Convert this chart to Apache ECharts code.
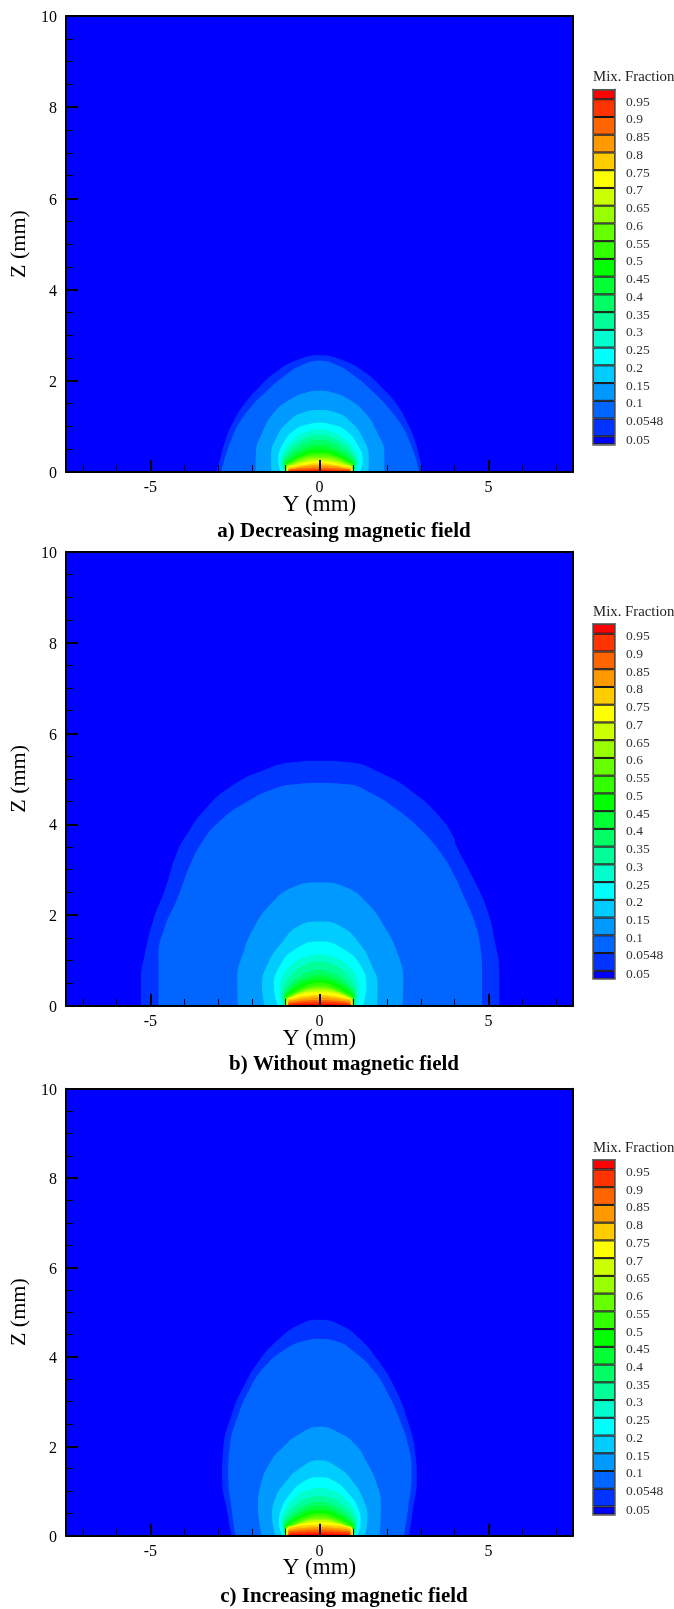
<!DOCTYPE html>
<html><head><meta charset="utf-8">
<style>html,body{margin:0;padding:0;background:#fff}#c{width:674px;height:1609px}</style>
<script src="https://cdn.jsdelivr.net/npm/echarts@6/dist/echarts.min.js"></script>
</head><body><div id="c"></div>
<script>
// ---- data ----
const levelNames = ['0.05','0.0548','0.1','0.15','0.2','0.25','0.3','0.35','0.4','0.45','0.5','0.55','0.6','0.65','0.7','0.75','0.8','0.85','0.9','0.95'];
const levelColors = ['#0033ff','#0066ff','#0099ff','#00ccff','#00ffff','#00ffcc','#00ff99','#00ff66','#00ff33','#00ff00','#33ff00','#66ff00','#99ff00','#ccff00','#ffff00','#ffcc00','#ff9900','#ff6600','#ff3300','#ff0000'];
const baseColor = '#0000ff';
const yMajor = [-5,0,5];
const yMinor = [-7,-6,-4,-3,-2,-1,1,2,3,4,6,7];
const zMajor = [0,2,4,6,8,10];
const zMinor = [0.5,1,1.5,2.5,3,3.5,4.5,5,5.5,6.5,7,7.5,8.5,9,9.5];
const captions = ['a) Decreasing magnetic field','b) Without magnetic field','c) Increasing magnetic field'];
const legendThickness = [0.45,1,1,1,1,1,1,1,1,1,1,1,1,1,1,1,1,1,1,1,0.56];
const legendLabels = ['0.05','0.0548','0.1','0.15','0.2','0.25','0.3','0.35','0.4','0.45','0.5','0.55','0.6','0.65','0.7','0.75','0.8','0.85','0.9','0.95',''];

// Boundary of each level as [Y, Z]; lists ending on Y = 0 are the left half of a symmetric contour.
const contoursDecreasing = [
 [[-3.05,0],[-2.95,.25],[-2.78,.7],[-2.55,1.1],[-2.21,1.5],[-1.8,1.85],[-1.28,2.2],[-.64,2.46],[0,2.56],[.65,2.46],[1.32,2.2],[1.85,1.85],[2.3,1.47],[2.6,1.08],[2.82,.7],[2.98,.25],[3.07,0]],
 [[-2.9,0],[-2.8,.3],[-2.6,.72],[-2.35,1.1],[-2,1.45],[-1.6,1.75],[-1.05,2.1],[-.5,2.35],[0,2.44],[.5,2.35],[1.05,2.1],[1.6,1.75],[2.05,1.4],[2.42,1.04],[2.65,.7],[2.85,.3],[2.95,0]],
 [[-1.89,0],[-1.88,.4],[-1.7,.85],[-1.35,1.3],[-.85,1.6],[-.4,1.74],[0,1.78],[.4,1.74],[.85,1.6],[1.35,1.3],[1.72,.85],[1.92,.4],[1.92,0]],
 [[-1.42,0],[-1.43,.3],[-1.28,.75],[-.9,1.12],[-.5,1.3],[0,1.36],[.5,1.3],[.9,1.12],[1.28,.75],[1.46,.3],[1.45,0]],
 [[-1.15,0],[-1.22,.25],[-1.08,.62],[-.72,.93],[-.35,1.04],[0,1.08],[.35,1.04],[.74,.93],[1.11,.62],[1.28,.25],[1.2,0]],
 [[-1.03,0],[-1.15,.22],[-1.03,.48],[-.7,.75],[-.35,.89],[0,.93]],
 [[-1.02,0],[-1.1,.2],[-.97,.42],[-.65,.65],[-.3,.78],[0,.81]],
 [[-1.01,0],[-1.06,.18],[-.93,.37],[-.6,.56],[-.3,.67],[0,.7]],
 [[-1,0],[-1.03,.16],[-.88,.32],[-.55,.47],[-.27,.56],[0,.59]],
 [[-1,0],[-1.01,.14],[-.85,.27],[-.5,.41],[-.25,.48],[0,.5]],
 [[-.99,0],[-1,.13],[-.82,.24],[-.5,.35],[-.25,.41],[0,.42]],
 [[-.98,0],[-.98,.12],[-.8,.21],[-.5,.31],[-.25,.36],[0,.37]],
 [[-.98,0],[-.97,.11],[-.8,.18],[-.5,.27],[-.25,.31],[0,.32]],
 [[-.97,0],[-.96,.1],[-.8,.16],[-.5,.23],[-.25,.27],[0,.28]],
 [[-.96,0],[-.95,.09],[-.75,.14],[-.4,.21],[-.2,.23],[0,.24]],
 [[-.95,0],[-.94,.08],[-.75,.12],[-.4,.16],[-.2,.185],[0,.19]],
 [[-.93,0],[-.92,.06],[-.7,.09],[-.4,.13],[0,.15]],
 [[-.92,0],[-.91,.05],[-.7,.07],[-.4,.085],[0,.1]],
 [[-.91,0],[-.9,.03],[-.7,.04],[-.4,.05],[0,.06]],
 [[-.89,0],[-.88,.015],[-.7,.02],[0,.03]]
];
const contoursWithout = [
 [[-5.28,0],[-5.28,.57],[-5.16,1.16],[-4.91,1.9],[-4.57,2.56],[-4.22,3.37],[-3.93,3.77],[-3.39,4.32],[-2.6,4.84],[-1.62,5.2],[-.74,5.37],[0,5.4],[.83,5.37],[1.82,5.13],[2.8,4.69],[3.59,4.14],[3.98,3.7],[4.03,3.55],[4.57,2.78],[4.96,2.12],[5.2,1.38],[5.32,.72],[5.32,0]],
 [[-4.76,0],[-4.76,1.09],[-4.57,1.75],[-4.22,2.34],[-3.98,2.82],[-3.93,2.93],[-3.49,3.59],[-2.9,4.1],[-2.11,4.51],[-1.42,4.76],[-.74,4.88],[0,4.91],[.83,4.88],[1.52,4.69],[2.31,4.32],[3,3.88],[3.59,3.37],[4.03,2.82],[4.27,2.41],[4.57,1.9],[4.76,1.31],[4.81,.72],[4.81,0]],
 [[-2.41,0],[-2.43,.57],[-2.26,1.16],[-1.92,1.75],[-1.42,2.26],[-.83,2.6],[0,2.72],[.83,2.6],[1.42,2.26],[1.92,1.75],[2.31,1.16],[2.48,.57],[2.46,0]],
 [[-1.62,0],[-1.7,.43],[-1.52,.94],[-1.13,1.38],[-.64,1.75],[0,1.86],[.64,1.75],[1.18,1.38],[1.52,.94],[1.72,.43],[1.7,0]],
 [[-1.23,0],[-1.35,.43],[-1.18,.87],[-.74,1.24],[0,1.42],[.74,1.24],[1.23,.87],[1.39,.43],[1.28,0]],
 [[-1.08,0],[-1.18,.3],[-1.12,.6],[-.8,.92],[-.4,1.08],[0,1.13]],
 [[-1.05,0],[-1.1,.25],[-1,.5],[-.7,.78],[-.35,.93],[0,.98]],
 [[-1.03,0],[-1.05,.22],[-.93,.42],[-.65,.62],[-.3,.75],[0,.79]],
 [[-1.02,0],[-1.03,.2],[-.88,.38],[-.6,.54],[-.3,.64],[0,.68]],
 [[-1.01,0],[-1.01,.18],[-.85,.33],[-.55,.48],[-.25,.56],[0,.59]],
 [[-1,0],[-1,.16],[-.82,.28],[-.5,.42],[-.25,.49],[0,.51]],
 [[-.99,0],[-.98,.15],[-.8,.25],[-.5,.36],[-.25,.42],[0,.44]],
 [[-.98,0],[-.97,.14],[-.8,.23],[-.5,.33],[-.25,.38],[0,.39]],
 [[-.97,0],[-.96,.13],[-.8,.21],[-.5,.3],[-.25,.34],[0,.35]],
 [[-.96,0],[-.94,.14],[-.8,.2],[-.5,.27],[-.2,.3],[0,.3]],
 [[-.95,0],[-.94,.12],[-.75,.17],[-.4,.22],[0,.24]],
 [[-.93,0],[-.92,.1],[-.75,.13],[-.4,.17],[0,.19]],
 [[-.92,0],[-.91,.07],[-.75,.09],[-.4,.12],[0,.13]],
 [[-.91,0],[-.9,.05],[-.75,.06],[-.4,.08],[0,.09]],
 [[-.89,0],[-.88,.02],[-.7,.03],[0,.04]]
];
const contoursIncreasing = [
 [[-2.6,0],[-2.72,.5],[-2.88,1.32],[-2.85,1.9],[-2.6,2.7],[-2.2,3.4],[-1.75,3.95],[-1.2,4.4],[-.6,4.72],[0,4.83],[.6,4.72],[1.2,4.4],[1.75,3.9],[2.2,3.35],[2.6,2.6],[2.85,1.75],[2.88,1.3],[2.75,.5],[2.65,0]],
 [[-2.48,0],[-2.6,.6],[-2.7,1.4],[-2.65,2],[-2.4,2.7],[-2.05,3.3],[-1.6,3.8],[-1.05,4.15],[-.5,4.35],[0,4.4],[.5,4.35],[1.05,4.1],[1.6,3.7],[2.05,3.15],[2.4,2.55],[2.65,1.95],[2.73,1.4],[2.62,.6],[2.5,0]],
 [[-1.7,0],[-1.82,.65],[-1.75,1.1],[-1.45,1.65],[-1.05,2],[-.65,2.25],[0,2.44],[.6,2.3],[1.05,2.05],[1.4,1.65],[1.7,1.15],[1.82,.7],[1.78,0]],
 [[-1.3,0],[-1.4,.42],[-1.3,.85],[-1,1.2],[-.6,1.5],[0,1.69],[.6,1.5],[1,1.2],[1.3,.8],[1.42,.42],[1.35,0]],
 [[-1.1,0],[-1.2,.3],[-1.15,.55],[-.85,.95],[-.45,1.22],[0,1.31],[.45,1.22],[.85,.95],[1.15,.6],[1.22,.3],[1.12,0]],
 [[-1.03,0],[-1.12,.3],[-1,.6],[-.7,.87],[-.35,1.02],[0,1.06]],
 [[-1.02,0],[-1.08,.25],[-.95,.5],[-.65,.72],[-.3,.85],[0,.89]],
 [[-1.02,0],[-1.05,.22],[-.9,.42],[-.6,.6],[-.3,.72],[0,.76]],
 [[-1.01,0],[-1.03,.2],[-.87,.37],[-.55,.53],[-.28,.63],[0,.66]],
 [[-1,0],[-1.01,.18],[-.85,.32],[-.5,.47],[-.25,.55],[0,.57]],
 [[-1,0],[-1,.16],[-.82,.28],[-.5,.41],[-.25,.48],[0,.5]],
 [[-.99,0],[-.99,.15],[-.8,.25],[-.5,.35],[-.25,.42],[0,.44]],
 [[-.98,0],[-.98,.14],[-.8,.22],[-.5,.31],[-.25,.37],[0,.38]],
 [[-.98,0],[-.97,.13],[-.8,.2],[-.5,.29],[-.25,.34],[0,.35]],
 [[-.98,0],[-.97,.15],[-.75,.23],[-.4,.28],[0,.3]],
 [[-.95,0],[-.94,.13],[-.75,.2],[-.4,.23],[0,.24]],
 [[-.93,0],[-.92,.11],[-.75,.15],[-.4,.18],[0,.19]],
 [[-.92,0],[-.91,.08],[-.75,.11],[-.4,.13],[0,.14]],
 [[-.91,0],[-.9,.05],[-.75,.07],[-.4,.085],[0,.09]],
 [[-.89,0],[-.88,.025],[-.7,.035],[-.4,.04],[0,.045]]
];
const panelContours = [contoursDecreasing, contoursWithout, contoursIncreasing];

// ---- layout and style ----
const SERIF = '"Liberation Serif","Times New Roman",serif';
const plotBoxes = [{top:16,height:456,cap:532},{top:551.7,height:454.3,cap:1065},{top:1088.7,height:447,cap:1597}];
const legendBoxes = [{top:89.3,mix:77},{top:623.8,mix:612},{top:1159.5,mix:1148}];

const closeContour = pts => pts[pts.length-1][0] === 0
  ? pts.concat(pts.slice(0,-1).reverse().map(p => [-p[0], p[1]]))
  : pts;

const grid=[], xAxis=[], yAxis=[], series=[], title=[];
const hidden = {show:false};
const frameLine = {show:true,onZero:false,lineStyle:{color:'#000',width:2}};
const noLine = {show:false,onZero:false};

plotBoxes.forEach((b,p)=>{
  const g = grid.length;
  grid.push({left:64,width:509,top:b.top,height:b.height,backgroundColor:baseColor,show:true,borderWidth:0});
  const xBase = {gridIndex:g,type:'value',min:-7.5,max:7.5,splitLine:hidden,z:6};
  const yBase = {gridIndex:g,type:'value',min:0,max:10,splitLine:hidden,z:6};
  const xi = xAxis.length, yi = yAxis.length;
  xAxis.push(Object.assign({},xBase,{position:'bottom',axisLine:frameLine,
    axisTick:{show:true,inside:true,length:12,customValues:yMajor,lineStyle:{color:'#000',width:2}},
    axisLabel:{show:true,customValues:yMajor,margin:8,fontFamily:SERIF,fontSize:16,color:'#000',formatter:v=>String(v)},
    name:'Y (mm)',nameLocation:'middle',nameMoveOverlap:false,nameGap:21,nameTextStyle:{fontFamily:SERIF,fontSize:23,color:'#000'}}));
  xAxis.push(Object.assign({},xBase,{position:'bottom',axisLine:noLine,axisLabel:hidden,
    axisTick:{show:true,inside:true,length:7,customValues:yMinor,lineStyle:{color:'#000',width:1}}}));
  xAxis.push(Object.assign({},xBase,{position:'top',axisLine:frameLine,axisLabel:hidden,axisTick:hidden}));
  yAxis.push(Object.assign({},yBase,{position:'left',axisLine:frameLine,
    axisTick:{show:true,inside:true,length:12,customValues:zMajor,lineStyle:{color:'#000',width:2}},
    axisLabel:{show:true,customValues:zMajor,margin:9,verticalAlign:'top',lineHeight:4,fontFamily:SERIF,fontSize:16,color:'#000',formatter:v=>String(v)},
    name:'Z (mm)',nameLocation:'middle',nameRotate:90,nameGap:28,nameTextStyle:{fontFamily:SERIF,fontSize:22,color:'#000'}}));
  yAxis.push(Object.assign({},yBase,{position:'left',axisLine:noLine,axisLabel:hidden,
    axisTick:{show:true,inside:true,length:7,customValues:zMinor,lineStyle:{color:'#000',width:1}}}));
  yAxis.push(Object.assign({},yBase,{position:'right',axisLine:frameLine,axisLabel:hidden,axisTick:hidden}));
  panelContours[p].forEach((pts,i)=>{
    series.push({type:'line',name:levelNames[i],xAxisIndex:xi,yAxisIndex:yi,data:closeContour(pts),
      smooth:0.5,showSymbol:false,silent:true,z:2+i*0.01,
      lineStyle:{width:0},areaStyle:{color:levelColors[i],opacity:1,origin:'start'},clip:true});
  });
  title.push({text:captions[p],left:344,top:b.cap,padding:0,textAlign:'center',textVerticalAlign:'middle',
    textStyle:{fontFamily:SERIF,fontSize:21,fontWeight:'bold',color:'#000'}});
});

const legendColors = [baseColor].concat(levelColors);
const legendTotal = legendThickness.reduce((a,b)=>a+b,0);
const greyFrame = {show:true,onZero:false,lineStyle:{color:'#5a5a5a',width:1.5}};
legendBoxes.forEach((b,p)=>{
  const g = grid.length;
  grid.push({left:593,width:22,top:b.top,height:355});
  const xi = xAxis.length, yi = yAxis.length;
  xAxis.push({gridIndex:g,type:'category',data:['legend'],position:'bottom',axisLine:greyFrame,axisTick:hidden,axisLabel:hidden,splitLine:hidden,z:6});
  xAxis.push({gridIndex:g,type:'category',data:['legend'],position:'top',axisLine:greyFrame,axisTick:hidden,axisLabel:hidden,splitLine:hidden,z:6});
  yAxis.push({gridIndex:g,type:'value',min:0,max:legendTotal,position:'left',axisLine:greyFrame,axisTick:hidden,axisLabel:hidden,splitLine:hidden,z:6});
  yAxis.push({gridIndex:g,type:'value',min:0,max:legendTotal,position:'right',axisLine:greyFrame,axisTick:hidden,axisLabel:hidden,splitLine:hidden,z:6});
  legendThickness.forEach((v,i)=>{
    series.push({type:'bar',xAxisIndex:xi,yAxisIndex:yi,stack:'legend'+p,barWidth:'100%',data:[v],silent:true,z:3,
      itemStyle:{color:legendColors[i],borderColor:'#111',borderWidth:1},
      label:{show:legendLabels[i]!=='',position:'right',distance:11,offset:[0,i===0?0:-6],
        formatter:legendLabels[i],fontFamily:SERIF,fontSize:13.5,color:'#333'}});
  });
  title.push({text:'Mix. Fraction',left:593,top:b.mix,padding:0,textVerticalAlign:'middle',textAlign:'left',
    textStyle:{fontFamily:SERIF,fontSize:14.8,fontWeight:'normal',color:'#222'}});
});

const chart = echarts.init(document.getElementById('c'),null,{renderer:'canvas'});
chart.setOption({animation:false,backgroundColor:'#fff',title,grid,xAxis,yAxis,series,tooltip:{show:false},legend:{show:false}});
</script></body></html>
